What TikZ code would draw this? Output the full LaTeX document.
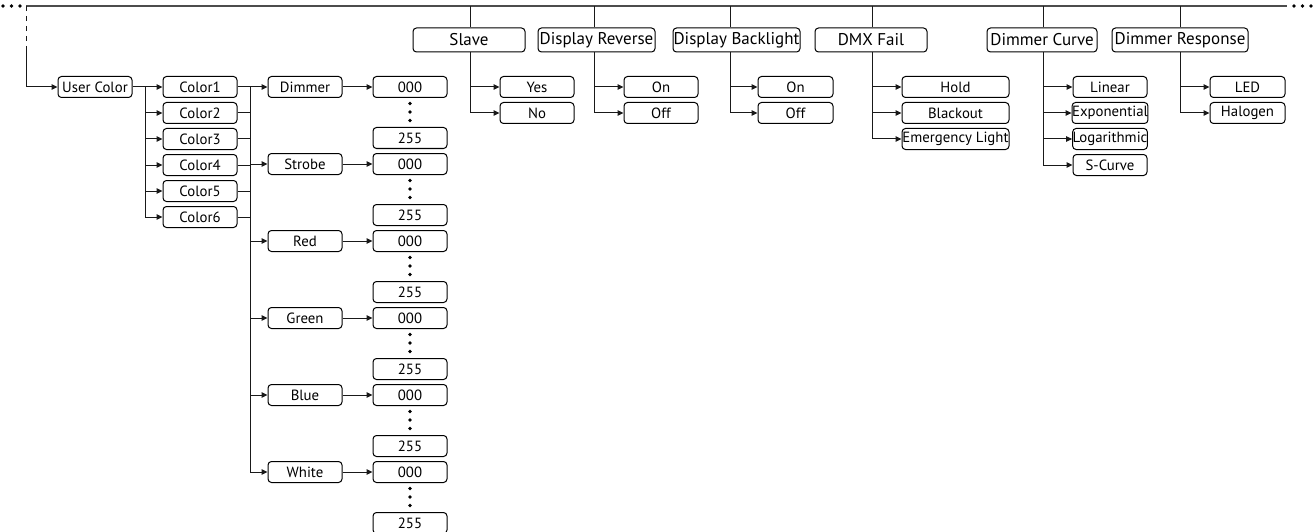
\documentclass[tikz,border=0pt]{standalone}
\usepackage{fontspec}
\setmainfont{PT Sans}
\usetikzlibrary{arrows.meta}
\tikzset{
  ln/.style={line width=1pt, draw=black!90},
  arr/.style={ln, -{Triangle[length=6pt,width=5.5pt]}},
  box/.style={draw=black, line width=1pt, rounded corners=3.5pt, inner sep=0pt,
    minimum height=21pt, minimum width=74pt, font=\fontsize{14.8}{16}\selectfont},
  topbox/.style={box, minimum height=24pt, font=\fontsize{17}{19}\selectfont},
  topline/.style={line width=1.3pt, draw=black!70},
  dotmark/.style={fill=black}
}
\begin{document}
\begin{tikzpicture}[x=1pt,y=-1pt]
\useasboundingbox (0,0) rectangle (1314,532);
% ---- top bus ----
\coordinate (tl) at (26,6);
\coordinate (tr) at (1287,6);
\coordinate (dk) at (26,50);
\draw[topline] (tl) -- (tr);
\foreach \x in {3,11.5,20,1294,1302.5,1311} \fill[dotmark] (\x,6) circle (1.8pt);
\draw[ln, dash pattern=on 5pt off 5pt] (tl) -- (dk);
% ---- left tree ----
\node[box] (uc) at (95,87) {User Color};
\draw[arr] (dk) |- (uc);
\foreach \i in {1,...,6}
  \node[box] (c\i) at (200,{87+26*(\i-1)}) {Color\i};
\coordinate (j1) at (145,87);
\draw[arr] (uc) -- (c1);
\foreach \i in {2,...,5} \draw[arr] (j1 |- c\i) -- (c\i);
\draw[arr] (j1) |- (c6);
\coordinate (j2) at (250,87);
\foreach \i in {1,...,6} \draw[ln] (c\i.east) -- (j2 |- c\i);
\foreach \n [count=\k from 0] in {Dimmer,Strobe,Red,Green,Blue,White}{
  \node[box] (ch\k) at (305,{87+77*\k}) {\n};
  \node[box] (va\k) at (410,{87+77*\k}) {000};
  \node[box] (vb\k) at (410,{138+77*\k}) {255};
  \draw[arr] (ch\k) -- (va\k);
  \foreach \d in {16.5,25,33.5} \fill[dotmark] (410,{87+77*\k+\d}) circle (1.9pt);
}
\draw[ln] (j2) -- (j2 |- ch5);
\foreach \k in {0,...,4} \draw[arr] (j2 |- ch\k) -- (ch\k);
\draw[arr] (j2) |- (ch5);
% ---- top-level menus ----
\node[topbox, minimum width=112pt] (slave) at (469,40) {Slave};
\node[topbox, minimum width=117pt] (drev) at (596.5,40) {Display Reverse};
\node[topbox, minimum width=127pt] (dbl) at (736.5,40) {Display Backlight};
\node[topbox, minimum width=112pt] (dmx) at (871,40) {DMX Fail};
\node[topbox, minimum width=110pt] (dcur) at (1042,40) {Dimmer Curve};
\node[topbox, minimum width=136pt] (dres) at (1180,40) {Dimmer Response};
\coordinate (t1) at (470,6);
\coordinate (t2) at (594,6);
\coordinate (t3) at (730,6);
\coordinate (t4) at (872,6);
\coordinate (t5) at (1043,6);
\coordinate (t6) at (1180,6);
\foreach \t/\b in {t1/slave,t2/drev,t3/dbl,t4/dmx,t5/dcur,t6/dres}
  \draw[ln] (\t) -- (\t |- \b.north);
% sub items
\node[box] (yes) at (537,87) {Yes};
\node[box] (no) at (537,113) {No};
\node[box] (ron) at (661,87) {On};
\node[box] (roff) at (661,113) {Off};
\node[box, minimum width=75pt] (bon) at (795.5,87) {On};
\node[box, minimum width=75pt] (boff) at (795.5,113) {Off};
\node[box, minimum width=107pt] (hold) at (955.5,87) {Hold};
\node[box, minimum width=107pt] (black) at (955.5,113) {Blackout};
\node[box, minimum width=107pt] (emer) at (955.5,139) {Emergency Light};
\node[box] (lin) at (1110,87) {Linear};
\node[box] (expo) at (1110,113) {Exponential};
\node[box] (loga) at (1110,139) {Logarithmic};
\node[box] (scur) at (1110,165) {S-Curve};
\node[box, minimum width=75pt] (led) at (1247.5,87) {LED};
\node[box, minimum width=75pt] (halo) at (1247.5,113) {Halogen};
\foreach \t/\b/\s in {t1/slave/yes,t1/slave/no,t2/drev/ron,t2/drev/roff,t3/dbl/bon,t3/dbl/boff,
  t4/dmx/hold,t4/dmx/black,t4/dmx/emer,t5/dcur/lin,t5/dcur/expo,t5/dcur/loga,t5/dcur/scur,
  t6/dres/led,t6/dres/halo}
  \draw[arr] (\t |- \b.south) |- (\s);
\end{tikzpicture}
\end{document}
